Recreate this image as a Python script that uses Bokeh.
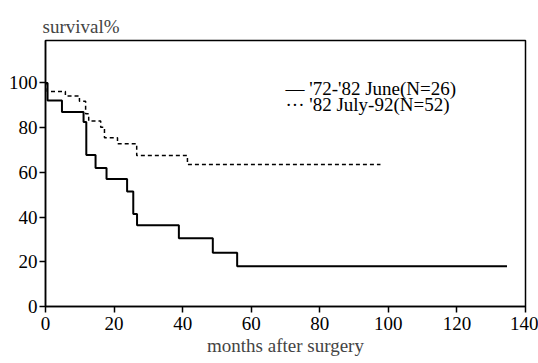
from bokeh.plotting import figure
from bokeh.models import Range1d, FixedTicker, Label
from bokeh.embed import file_html
from bokeh.resources import INLINE

# Kaplan-Meier style survival curves
early_months = [0, 0.6, 4.8, 11.1, 11.9, 14.6, 17.8, 23.8, 25.6, 26.7, 38.9, 48.8, 55.9, 134.6]
early_surv = [100, 92.2, 87, 82.5, 67.8, 62, 57, 51.5, 41.4, 36.4, 30.5, 24, 18, 18]

late_months = [0, 0.5, 5.8, 9.9, 11.7, 12.6, 16.1, 17.2, 21.0, 26.6, 41.4, 97.7]
late_surv = [100, 96.2, 94.2, 91.8, 86.2, 83.0, 80.2, 75.5, 72.8, 67.5, 63.5, 63.5]

x_ticks = [0, 20, 40, 60, 80, 100, 120, 140]
y_ticks = [0, 20, 40, 60, 80, 100]

legend_early = "\u2014 '72-'82 June(N=26)"
legend_late = "\u00b7\u00b7\u00b7 '82 July-92(N=52)"
x_title = "months after surgery"
y_title = "survival%"

FONT = "Liberation Serif"

p = figure(width=538, height=363, output_backend="svg", toolbar_location=None,
           x_range=Range1d(0, 140), y_range=Range1d(0, 119),
           min_border_left=45, min_border_right=13, min_border_top=40,
           min_border_bottom=57, title=y_title)

p.title.text_font = FONT
p.title.text_font_size = "19px"
p.title.text_font_style = "normal"
p.title.align = "left"
p.title.offset = -3
p.title.standoff = 8

p.xgrid.visible = False
p.ygrid.visible = False
p.outline_line_color = "black"
p.outline_line_width = 1.5
p.background_fill_color = "white"
p.border_fill_color = "white"

for ax in (p.xaxis[0], p.yaxis[0]):
    ax.axis_line_color = "black"
    ax.axis_line_width = 1.5
    ax.major_tick_line_color = "black"
    ax.major_tick_line_width = 1.5
    ax.major_tick_out = 6
    ax.major_tick_in = 0
    ax.minor_tick_line_color = None
    ax.major_label_text_font = FONT
    ax.major_label_text_font_size = "19px"
    ax.major_label_text_color = "black"

p.xaxis[0].ticker = FixedTicker(ticks=x_ticks)
p.yaxis[0].ticker = FixedTicker(ticks=y_ticks)
p.xaxis[0].major_label_standoff = 4
p.yaxis[0].major_label_standoff = 2
p.xaxis[0].axis_label = x_title
p.xaxis[0].axis_label_text_font = FONT
p.xaxis[0].axis_label_text_font_size = "19px"
p.xaxis[0].axis_label_text_font_style = "normal"
p.xaxis[0].axis_label_standoff = 2

p.step(early_months, early_surv, mode="after", line_color="black", line_width=2)
p.step(late_months, late_surv, mode="after", line_color="black", line_width=1.5,
       line_dash="4 3")

for txt, sy in ((legend_early, 218), (legend_late, 202)):
    p.add_layout(Label(x=240, y=sy, x_units="screen", y_units="screen", text=txt,
                       text_font=FONT, text_font_size="19px",
                       text_baseline="middle", text_color="black"))

open("out.html", "w").write(file_html(p, INLINE))
